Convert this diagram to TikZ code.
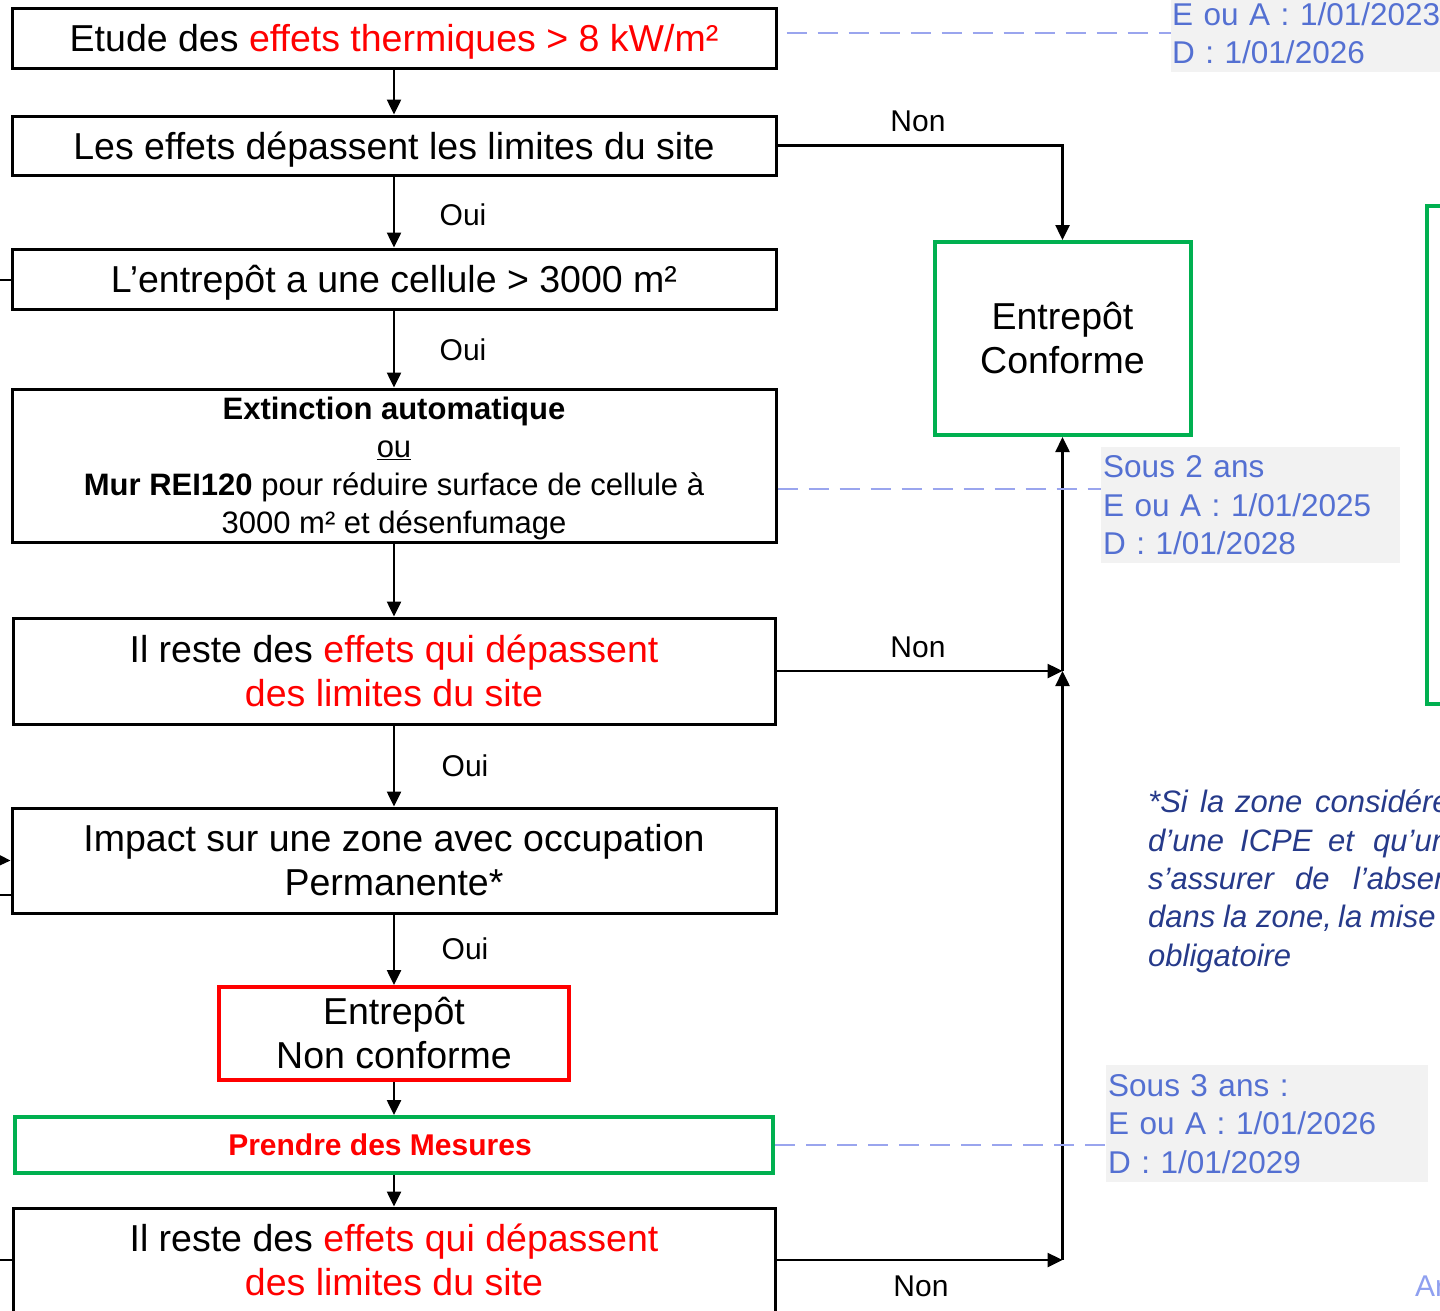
\documentclass[tikz,border=0pt]{standalone}
\usepackage{fontspec}
\setmainfont{Liberation Sans}
\usetikzlibrary{arrows.meta,calc}
\definecolor{rd}{HTML}{FF0000}
\definecolor{gr}{HTML}{00B050}
\definecolor{nb}{HTML}{5470D2}
\definecolor{dlc}{HTML}{9AA5EE}
\definecolor{arc}{HTML}{8FA0F0}
\definecolor{gy}{HTML}{F2F2F2}
\definecolor{itc}{HTML}{263A8A}
\begin{document}
\begin{tikzpicture}[x=1pt,y=-1pt,
  box/.style={draw=black,line width=3pt,inner sep=0pt,align=center,font=\fontsize{37.5}{44}\selectfont},
  one/.style={text height=27pt,text depth=0pt},
  redbox/.style={box,draw=rd,line width=4pt},
  greenbox/.style={box,draw=gr,line width=4pt},
  arr/.style={line width=2.5pt,-{Triangle[length=15pt,width=14pt]}},
  stub/.style={line width=2.5pt},
  lab/.style={font=\fontsize{30}{36}\selectfont,inner sep=0pt},
  dline/.style={draw=dlc,line width=2.5pt,dash pattern=on 20pt off 11pt},
  note/.style={fill=gy,inner sep=1pt,anchor=north west,align=left,text=nb,font=\fontsize{31.5}{38.5}\selectfont},
  itx/.style={inner sep=0pt,anchor=base west,text=itc,font=\fontsize{31}{38}\selectfont\itshape}]
\useasboundingbox (0,0) rectangle (1440,1310);
\clip (0,0) rectangle (1440,1310);

% main column
\node[box,one,minimum width=764,minimum height=60] (b1) at (394,38) {Etude des \textcolor{rd}{effets thermiques > 8 kW/m²}};
\node[box,one,minimum width=764,minimum height=59] (b2) at (394,145.5) {Les effets dépassent les limites du site};
\node[box,one,minimum width=764,minimum height=60] (b3) at (394,279) {L’entrepôt a une cellule > 3000 m²};
\node[box,minimum width=764,minimum height=153] (b4) at (394,465.5) {};
\node[inner sep=0pt,align=center,font=\fontsize{31}{38}\selectfont] (b4t) at (394,468.5)
  {\textbf{Extinction automatique}\\\underline{ou}\\\textbf{Mur REI120} pour réduire surface de cellule à\\3000 m² et désenfumage};
\node[box,minimum width=762,minimum height=106] (b5) at (394,671) {Il reste des \textcolor{rd}{effets qui dépassent}\\\textcolor{rd}{des limites du site}};
\node[box,minimum width=764,minimum height=105] (b6) at (394,860.5) {Impact sur une zone avec occupation\\Permanente*};
\node[redbox,minimum width=350,minimum height=93] (b7) at (394,1033.5) {Entrepôt\\Non conforme};
\node[greenbox,minimum width=758,minimum height=56,font=\fontsize{30}{36}\selectfont\bfseries,text=rd] (b8) at (394,1145) {Prendre des Mesures\hspace*{28pt}};
\node[box,minimum width=762,minimum height=104] (b9) at (394,1260) {Il reste des \textcolor{rd}{effets qui dépassent}\\\textcolor{rd}{des limites du site}};

\node[greenbox,minimum width=256,minimum height=193] (conf) at (1062.5,338.5) {Entrepôt\\Conforme};

% vertical arrows
\draw[arr] (b1) -- (b2);
\draw[arr] (b2) -- (b3);
\draw[arr] (b3) -- (b4);
\draw[arr] (b4) -- (b5);
\draw[arr] (b5) -- (b6);
\draw[arr] (b6) -- (b7);
\draw[arr] (b7) -- (b8);
\draw[arr] (b8) -- (b9);

\node[lab] (o1) at (463,215) {Oui};
\node[lab] (o2) at (463,350) {Oui};
\node[lab] (o3) at (465,766) {Oui};
\node[lab] (o4) at (465,949) {Oui};

% Non branches
\coordinate (j1) at (conf.south |- b5.east);
\coordinate (j2) at (conf.south |- b9.east);
\draw[arr] (b2.east) -| (conf.north);
\draw[arr] (b5.east) -- (j1);
\draw[arr] (b9.east) -- (j2);
\draw[arr] (j2) -- (j1);
\draw[arr] (j1) -- (conf.south);
\node[lab] (n1l) at (918,121) {Non};
\node[lab] (n2l) at (918,647) {Non};
\node[lab] (n3l) at (921,1286) {Non};

% notes
\node[note,minimum width=269,minimum height=78,text width=300] (n1) at (1171,-6) {E ou A : 1/01/2023\\D : 1/01/2026};
\node[note,minimum width=299,minimum height=116,text width=295] (n2) at (1101,447) {Sous 2 ans\\E ou A : 1/01/2025\\D : 1/01/2028};
\node[note,minimum width=322,minimum height=117,text width=318] (n3) at (1106,1065) {Sous 3 ans :\\E ou A : 1/01/2026\\D : 1/01/2029};
\draw[dline] ($(b1.east)+(9,-5)$) -- (n1.west |- 0,33);
\draw[dline] (b4.east |- 0,489) -- (n2.west |- 0,489);
\draw[dline] (b8.east) -- (n3.west |- b8.east);

% left stubs (connectors coming from outside the frame)
\coordinate (l1) at (-20,280);
\coordinate (l2) at (-20,860);
\coordinate (l3) at (-20,895);
\coordinate (l4) at (-20,1260);
\draw[stub] (l1) -- (b3.west |- l1);
\draw[arr] (l2) -- (b6.west);
\draw[stub] (l3) -- (b6.west |- l3);
\draw[stub] (l4) -- (b9.west);

% right green frame (cropped)
\node[draw=gr,line width=4pt,inner sep=0pt,minimum width=60,minimum height=498,anchor=north west] (rb) at (1425,204) {};

% italic note (cropped)
\node[itx] (t1) at (1148,812) {\makebox[52pt][l]{*Si}\makebox[35pt][l]{la}\makebox[80pt][l]{zone}considérée};
\node[itx] (t2) at (1148,851) {\makebox[92pt][l]{d’une}\makebox[88pt][l]{ICPE}\makebox[45pt][l]{et}qu’un};
\node[itx] (t3) at (1148,889) {\makebox[147pt][l]{s’assurer}\makebox[58pt][l]{de}l’absence};
\node[itx] (t4) at (1148,927) {\makebox[75pt][l]{dans}\makebox[33pt][l]{la}\makebox[82pt][l]{zone,}\makebox[32pt][l]{la}mise};
\node[itx] (t5) at (1148,966) {obligatoire};

\node[inner sep=0pt,anchor=base west,text=arc,font=\fontsize{30}{36}\selectfont] (ar) at (1415,1296) {Arr};
\end{tikzpicture}
\end{document}
